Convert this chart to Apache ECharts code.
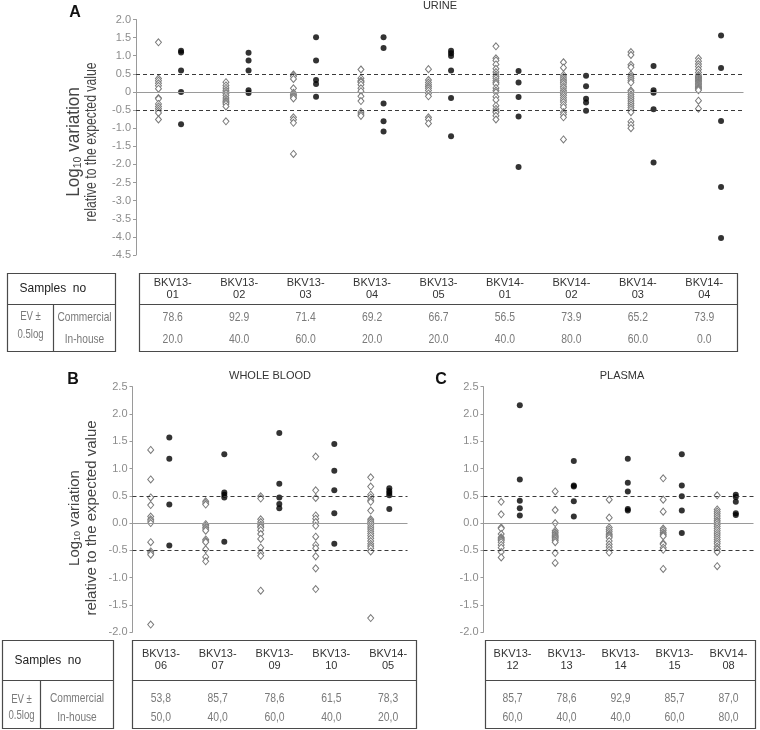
<!DOCTYPE html>
<html><head><meta charset="utf-8">
<script src="https://cdn.jsdelivr.net/npm/echarts@6/dist/echarts.min.js"></script>
<style>html,body{margin:0;padding:0;background:#fff}#c{width:760px;height:730px}</style>
</head><body><div id="c"></div>
<script>
// ---------------- DATA ----------------
const urineSamples = ['BKV13-01','BKV13-02','BKV13-03','BKV13-04','BKV13-05','BKV14-01','BKV14-02','BKV14-03','BKV14-04'];
const urineCommercial = [
  [1.37,0.37,0.31,0.24,0.17,0.09,-0.17,-0.19,-0.33,-0.40,-0.46,-0.52,-0.58,-0.76],
  [0.27,0.18,0.11,0.05,0.00,-0.04,-0.10,-0.17,-0.22,-0.26,-0.30,-0.33,-0.40,-0.81],
  [0.48,0.47,0.43,0.36,0.10,-0.02,-0.06,-0.10,-0.14,-0.18,-0.70,-0.77,-0.85,-1.71],
  [0.62,0.38,0.31,0.28,0.27,0.20,0.10,0.02,-0.12,-0.25,-0.55,-0.61,-0.66],
  [0.63,0.33,0.26,0.20,0.15,0.10,0.04,-0.04,-0.12,-0.70,-0.76,-0.87],
  [1.26,0.93,0.87,0.76,0.64,0.55,0.48,0.43,0.38,0.31,0.26,0.22,0.11,0.04,-0.01,-0.13,-0.22,-0.38,-0.47,-0.53,-0.57,-0.66,-0.76],
  [0.82,0.67,0.47,0.41,0.36,0.31,0.27,0.22,0.16,0.11,0.05,0.00,-0.05,-0.10,-0.16,-0.22,-0.28,-0.35,-0.42,-0.56,-0.62,-0.70,-1.31],
  [1.10,1.02,0.75,0.68,0.48,0.42,0.37,0.31,0.26,0.04,0.00,-0.07,-0.13,-0.19,-0.25,-0.31,-0.37,-0.43,-0.49,-0.56,-0.82,-0.91,-1.00],
  [0.93,0.85,0.77,0.70,0.62,0.54,0.47,0.43,0.40,0.37,0.34,0.31,0.28,0.25,0.22,0.19,0.16,0.13,0.10,0.08,0.05,-0.24,-0.46]
];
const urineInhouse = [
  [1.14,1.09,0.59,0.00,-0.89],
  [1.08,0.87,0.59,0.05,-0.03],
  [1.51,0.87,0.33,0.22,-0.13],
  [1.51,1.21,-0.32,-0.81,-1.09],
  [1.14,1.07,0.99,0.59,-0.17,-1.22],
  [0.58,0.26,-0.14,-0.68,-2.07],
  [0.45,0.16,-0.19,-0.29,-0.52],
  [0.72,0.05,-0.02,-0.48,-1.95],
  [1.56,0.66,-0.80,-2.62,-4.03]
];
const urineCommercialPct = ['78.6','92.9','71.4','69.2','66.7','56.5','73.9','65.2','73.9'];
const urineInhousePct = ['20.0','40.0','60.0','20.0','20.0','40.0','80.0','60.0','0.0'];
const urineTicks = ['2.0','1.5','1.0','0.5','0','-0.5','-1.0','-1.5','-2.0','-2.5','-3.0','-3.5','-4.0','-4.5'];

const bloodSamples = ['BKV13-06','BKV13-07','BKV13-09','BKV13-10','BKV14-05'];
const bloodCommercial = [
  [1.34,0.80,0.47,0.33,0.12,0.07,0.04,0.00,-0.35,-0.52,-0.55,-0.58,-1.86],
  [0.40,0.37,0.34,-0.02,-0.05,-0.08,-0.11,-0.14,-0.30,-0.33,-0.35,-0.48,-0.62,-0.70],
  [0.49,0.45,0.07,0.02,-0.03,-0.06,-0.08,-0.13,-0.20,-0.29,-0.45,-0.55,-0.60,-1.24],
  [1.22,0.60,0.46,0.14,0.08,0.02,-0.05,-0.25,-0.40,-0.46,-0.61,-0.83,-1.21],
  [0.84,0.67,0.52,0.47,0.42,0.39,0.23,0.07,0.04,0.01,-0.03,-0.07,-0.11,-0.15,-0.19,-0.23,-0.28,-0.33,-0.38,-0.42,-0.46,-0.52,-1.74]
];
const bloodInhouse = [
  [1.57,1.18,0.34,-0.41],
  [1.26,0.56,0.52,0.47,-0.34],
  [1.65,0.72,0.47,0.35,0.27],
  [1.45,0.96,0.60,0.18,-0.38],
  [0.64,0.59,0.55,0.51,0.26]
];
const bloodCommercialPct = ['53,8','85,7','78,6','61,5','78,3'];
const bloodInhousePct = ['50,0','40,0','60,0','40,0','20,0'];
const bloodTicks = ['2.5','2.0','1.5','1.0','0.5','0.0','-0.5','-1.0','-1.5','-2.0'];

const plasmaSamples = ['BKV13-12','BKV13-13','BKV13-14','BKV13-15','BKV14-08'];
const plasmaCommercial = [
  [0.39,0.16,-0.08,-0.10,-0.20,-0.26,-0.28,-0.30,-0.32,-0.35,-0.40,-0.45,-0.53,-0.63],
  [0.58,0.24,0.00,-0.14,-0.17,-0.20,-0.23,-0.25,-0.27,-0.29,-0.32,-0.35,-0.55,-0.73],
  [0.43,0.10,-0.08,-0.12,-0.16,-0.20,-0.22,-0.24,-0.27,-0.33,-0.39,-0.44,-0.49,-0.54],
  [0.82,0.43,0.21,-0.10,-0.13,-0.17,-0.20,-0.22,-0.24,-0.37,-0.39,-0.45,-0.49,-0.84],
  [0.51,0.25,0.21,0.17,0.13,0.09,0.05,0.02,-0.02,-0.06,-0.10,-0.14,-0.18,-0.22,-0.26,-0.30,-0.34,-0.38,-0.43,-0.47,-0.48,-0.53,-0.79]
];
const plasmaInhouse = [
  [2.16,0.80,0.41,0.27,0.14],
  [1.14,0.69,0.67,0.40,0.12],
  [1.18,0.74,0.58,0.26,0.23],
  [1.26,0.69,0.49,0.23,-0.18],
  [0.52,0.48,0.39,0.18,0.15]
];
const plasmaCommercialPct = ['85,7','78,6','92,9','85,7','87,0'];
const plasmaInhousePct = ['60,0','40,0','40,0','60,0','80,0'];
const plasmaTicks = ['2.5','2.0','1.5','1.0','0.5','0.0','-0.5','-1.0','-1.5','-2.0'];

const refLimits = [0.5, -0.5];
const refCenter = 0;
const panelTitles = ['URINE','WHOLE BLOOD','PLASMA'];
const panelLetters = ['A','B','C'];
const rowLabels = ['Commercial','In-house'];
const evLabel = ['EV \u00b1','0.5log'];
const samplesLabel = 'Samples  no';

// ---------------- CHART ----------------
const SANS = "'Liberation Sans',Arial,sans-serif";
const chart = echarts.init(document.getElementById('c'), null, {renderer:'canvas'});

const panels = [
  {samples:urineSamples, com:urineCommercial, inh:urineInhouse, ticks:urineTicks, grid:{left:136, top:19.5, width:607.5, height:235.5}, off:11.3},
  {samples:bloodSamples, com:bloodCommercial, inh:bloodInhouse, ticks:bloodTicks, grid:{left:132.5, top:386.7, width:275, height:245.5}, off:9.3},
  {samples:plasmaSamples, com:plasmaCommercial, inh:plasmaInhouse, ticks:plasmaTicks, grid:{left:483.5, top:386.7, width:270, height:245.5}, off:9.3}
];

const grids=[], xAxes=[], yAxes=[], series=[];
panels.forEach((p,i)=>{
  grids.push(p.grid);
  xAxes.push({type:'category', gridIndex:i, data:p.samples, show:false, boundaryGap:true});
  const mx = parseFloat(p.ticks[0]), mn = parseFloat(p.ticks[p.ticks.length-1]);
  const ticks = p.ticks;
  yAxes.push({type:'value', gridIndex:i, min:mn, max:mx, interval:0.5,
    axisLine:{show:true, lineStyle:{color:'#9a9a9a', width:1}},
    axisTick:{show:true, length:3, lineStyle:{color:'#9a9a9a'}},
    splitLine:{show:false},
    axisLabel:{color:'#8c8c8c', fontSize:11, fontFamily:SANS, margin:5,
      formatter:(v)=>ticks[Math.round((mx - v)/0.5)]}
  });
  const dia=[], dot=[];
  p.com.forEach((arr,k)=>arr.forEach(v=>dia.push([k,v])));
  p.inh.forEach((arr,k)=>arr.forEach(v=>dot.push([k,v])));
  series.push({type:'scatter', xAxisIndex:i, yAxisIndex:i, data:dia, symbol:'diamond', symbolSize:[6,7],
    symbolOffset:[-p.off,0], silent:true, z:3,
    itemStyle:{color:'#ffffff', borderColor:'#7a7a7a', borderWidth:1, opacity:1},
    markLine:{silent:true, symbol:'none', label:{show:false}, animation:false,
      data:[
        {yAxis:refCenter, lineStyle:{color:'#9a9a9a', type:'solid', width:1}},
        ...refLimits.map(v=>({yAxis:v, lineStyle:{color:'#3a3a3a', type:[4,3], width:1}}))
      ]}
  });
  series.push({type:'scatter', xAxisIndex:i, yAxisIndex:i, data:dot, symbol:'circle', symbolSize:6,
    symbolOffset:[p.off,0], silent:true, z:4, itemStyle:{color:'#000000'}});
});

// ---------- graphic: titles, axis names, tables ----------
const g = [];
function txt(text, x, y, opts, sx){
  g.push({type:'text', x:x, y:y, scaleX:sx||1, silent:true,
    style:Object.assign({text:text, x:0, y:0, textAlign:'center', textVerticalAlign:'middle', verticalAlign:'middle',
      fill:'#333', font:'12px '+SANS}, opts||{})});
}
function line(x1,y1,x2,y2){
  g.push({type:'line', silent:true, shape:{x1:x1,y1:y1,x2:x2,y2:y2}, style:{stroke:'#4a4a4a', lineWidth:1.2}});
}
function box(x,y,w,h){
  g.push({type:'rect', silent:true, shape:{x:x,y:y,width:w,height:h}, style:{fill:'none', stroke:'#4a4a4a', lineWidth:1.2}});
}
const NX = 0.8; // horizontal condensing for the narrow table font
// panel letters & titles
txt(panelLetters[0], 75, 12.5, {font:'bold 16px '+SANS, fill:'#111'});
txt(panelLetters[1], 73, 380, {font:'bold 16px '+SANS, fill:'#111'});
txt(panelLetters[2], 441, 380, {font:'bold 16px '+SANS, fill:'#111'});
txt(panelTitles[0], 440, 6, {font:'11px '+SANS, fill:'#333'});
txt(panelTitles[1], 270, 376, {font:'11px '+SANS, fill:'#333'});
txt(panelTitles[2], 622, 376, {font:'11px '+SANS, fill:'#333'});

// y-axis names (rotated)
function yName(cx1, cx2, cy, size1, sc1, size2, sc2){
  const rich = {a:{font:size1+'px '+SANS, fill:'#444'}, s:{font:Math.round(size1*0.62)+'px '+SANS, fill:'#444', verticalAlign:'bottom'}};
  g.push({type:'text', x:cx1, y:cy, rotation:Math.PI/2, scaleX:sc1, silent:true,
    style:{text:'{a|Log}{s|10}{a| variation}', rich:rich, x:0, y:0, textAlign:'center', textVerticalAlign:'middle', verticalAlign:'middle'}});
  g.push({type:'text', x:cx2, y:cy, rotation:Math.PI/2, scaleX:sc2, silent:true,
    style:{text:'relative to the expected value', x:0, y:0, textAlign:'center', textVerticalAlign:'middle', verticalAlign:'middle', fill:'#444', font:size2+'px '+SANS}});
}
yName(74, 91, 142, 18, 0.95, 17, 0.72);
yName(75, 92, 518, 15, 1, 15, 1);

// tables
function sampleHeader(name, cx, y1, y2){
  const parts = name.split('-');
  txt(parts[0]+'-', cx, y1, {font:'11px '+SANS, fill:'#333'});
  txt(parts[1], cx, y2, {font:'11px '+SANS, fill:'#333'});
}
function mainTable(samples, com, inh, L, R, T, M, B, hy1, hy2, ry1, ry2){
  box(L, T, R-L, B-T); line(L, M, R, M);
  const w = (R-L)/samples.length;
  samples.forEach((s,k)=>{
    const cx = L + w*(k+0.5);
    sampleHeader(s, cx, hy1, hy2);
    txt(com[k], cx, ry1, {font:'13px '+SANS, fill:'#7a7a7a'}, NX);
    txt(inh[k], cx, ry2, {font:'13px '+SANS, fill:'#7a7a7a'}, NX);
  });
}
function labelTable(L, D, R, T, M, B, sy, ey1, ey2, ry1, ry2){
  box(L, T, R-L, B-T); line(L, M, R, M); line(D, M, D, B);
  txt(samplesLabel, L+12, sy, {textAlign:'left', font:'12px '+SANS, fill:'#222'});
  txt(evLabel[0], (L+D)/2, ey1, {font:'12px '+SANS, fill:'#7a7a7a'}, NX);
  txt(evLabel[1], (L+D)/2, ey2, {font:'12px '+SANS, fill:'#7a7a7a'}, NX);
  txt(rowLabels[0], (D+R)/2, ry1, {font:'13px '+SANS, fill:'#7a7a7a'}, 0.78);
  txt(rowLabels[1], (D+R)/2, ry2, {font:'13px '+SANS, fill:'#7a7a7a'}, 0.78);
}
labelTable(7.5, 53.5, 115.5, 273.5, 304.5, 351.5, 289, 317, 335, 317, 339);
mainTable(urineSamples, urineCommercialPct, urineInhousePct, 139.5, 737.5, 273.5, 304.5, 351.5, 283, 295, 317, 339);
labelTable(2.5, 40.5, 113.5, 640.5, 680.5, 728.5, 661, 700, 716, 698, 717);
mainTable(bloodSamples, bloodCommercialPct, bloodInhousePct, 132.5, 416.5, 640.5, 680.5, 728.5, 654, 666, 698, 717);
mainTable(plasmaSamples, plasmaCommercialPct, plasmaInhousePct, 485.5, 755.5, 640.5, 680.5, 728.5, 654, 666, 698, 717);

chart.setOption({
  animation:false,
  backgroundColor:'#ffffff',
  grid:grids, xAxis:xAxes, yAxis:yAxes, series:series, graphic:g
});
</script>
</body></html>
